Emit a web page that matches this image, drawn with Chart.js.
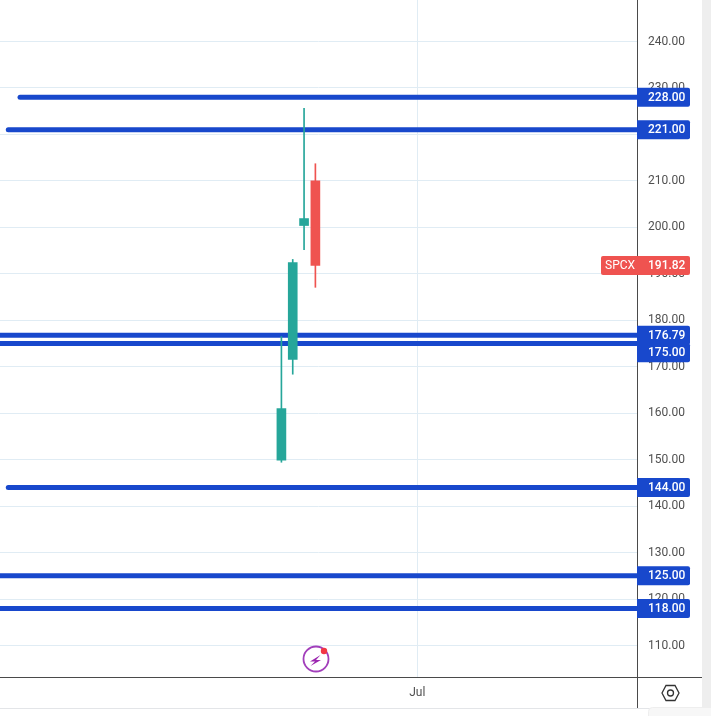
<html>
  <head>
    <style>
      html, body { margin: 0; padding: 0; background: #fff; }
      canvas { display: block; }
    </style>
    <script src="https://cdn.jsdelivr.net/npm/chart.js"></script>
  </head>
  <body>
    <canvas id="myChart" width="711" height="716"></canvas>
    <script>
      // daily candles, x is trading day counted from the first candle
      const candleDays = [0, 1, 2, 3];
      const opens = [149.9, 171.6, 200.4, 210.0];
      const closes = [161.0, 192.4, 201.9, 191.82];
      const highs = [176.5, 193.1, 225.6, 213.7];
      const lows = [149.45, 168.4, 195.2, 187.1];

      // horizontal levels and the day each one starts on
      const levels = [228, 221, 176.79, 175, 144, 125, 118];
      const levelStarts = [-23.08, -24.12, -25, -25, -24.12, -25, -25];

      const priceTicks = [110, 120, 130, 140, 150, 160, 170, 180, 190, 200, 210, 220, 230, 240];
      const dayTicks = [12];
      const dayTickLabels = ['Jul'];
      const lastPrice = 191.82;
      const symbol = 'SPCX';

      const xMin = -24.85, xMax = 31.4;
      const yMin = 103.23, yMax = 248.94;

      const UP = '#26a69a', DOWN = '#ef5350', BLUE = '#1848cc', FRAME = '#4a4a4a', LABEL = '#505050', GRID = '#e0ecf4';
      const FONT = 'Roboto, "Liberation Sans", Arial, sans-serif';

      const candleColors = candleDays.map((d, i) => closes[i] >= opens[i] ? UP : DOWN);

      const datasets = [
        {
          type: 'bar',
          data: candleDays.map((d, i) => ({ x: d, y: [Math.min(opens[i], closes[i]), Math.max(opens[i], closes[i])] })),
          backgroundColor: candleColors,
          barThickness: 9,
          grouped: false,
          order: 1
        },
        {
          type: 'bar',
          data: candleDays.map((d, i) => ({ x: d, y: [lows[i], highs[i]] })),
          backgroundColor: candleColors,
          barThickness: 1,
          grouped: false,
          order: 2
        }
      ];

      levels.forEach((level, i) => {
        datasets.push({
          type: 'line',
          data: [{ x: levelStarts[i], y: level }, { x: xMax, y: level }],
          borderColor: BLUE,
          borderWidth: 5,
          borderCapStyle: 'round',
          pointRadius: 0,
          order: 3
        });
      });

      function badge(ctx, left, right, y, color) {
        ctx.fillStyle = color;
        ctx.beginPath();
        ctx.roundRect(left, y - 9.5, right - left, 19, left < 637 ? 2 : [0, 2, 2, 0]);
        ctx.fill();
      }

      const frame = {
        id: 'frame',
        beforeDraw(chart) {
          const ctx = chart.ctx;
          ctx.save();
          ctx.fillStyle = '#eeeeee';
          ctx.fillRect(702, 0, 9, 716);
          ctx.fillStyle = '#ffffff';
          ctx.fillRect(0, 0, 702, 716);
          ctx.fillStyle = '#e3e5e8';
          ctx.fillRect(0, 708, 702, 1);
          ctx.fillStyle = '#f7f7f7';
          ctx.strokeStyle = '#eeeeee';
          ctx.beginPath();
          ctx.roundRect(648.5, 707.5, 63, 9, [4, 0, 0, 0]);
          ctx.fill();
          ctx.stroke();
          ctx.restore();
        },
        afterDraw(chart) {
          const ctx = chart.ctx;
          const y = chart.scales.y;
          ctx.save();
          // axis frame runs on past the plot area
          ctx.fillStyle = FRAME;
          ctx.fillRect(637, 0, 1, 708);
          ctx.fillRect(0, 677, 702, 1);

          // level badges, pushed down when they would overlap
          ctx.font = '500 12px ' + FONT;
          ctx.textBaseline = 'middle';
          ctx.textAlign = 'left';
          let prev = -100;
          levels.forEach(level => {
            let py = y.getPixelForValue(level);
            if (py - prev < 17.5) py = prev + 17.5;
            prev = py;
            badge(ctx, 637, 690, py, BLUE);
            ctx.fillStyle = '#fff';
            ctx.fillText(level.toFixed(2), 648, py + 0.5);
          });

          // last price
          const lastY = y.getPixelForValue(lastPrice);
          badge(ctx, 601, 690, lastY, DOWN);
          ctx.fillStyle = '#fff';
          ctx.fillText(lastPrice.toFixed(2), 648, lastY + 0.5);
          ctx.font = '12px ' + FONT;
          ctx.fillText(symbol, 605, lastY + 0.5);

          // purple bolt button
          ctx.strokeStyle = '#a23fbb';
          ctx.lineWidth = 1.8;
          ctx.beginPath();
          ctx.arc(316, 659, 12.5, 0, Math.PI * 2);
          ctx.stroke();
          ctx.fillStyle = '#9c27b0';
          ctx.beginPath();
          ctx.moveTo(320.5, 655);
          ctx.lineTo(310, 661.5);
          ctx.lineTo(315, 661.5);
          ctx.lineTo(310.5, 666);
          ctx.lineTo(321, 660);
          ctx.lineTo(316, 660);
          ctx.closePath();
          ctx.fill();
          ctx.fillStyle = '#f23645';
          ctx.beginPath();
          ctx.arc(324, 651, 3.2, 0, Math.PI * 2);
          ctx.fill();

          // settings hexagon
          ctx.strokeStyle = '#333';
          ctx.lineWidth = 1.3;
          ctx.beginPath();
          ctx.moveTo(662, 693);
          ctx.lineTo(666, 685.5);
          ctx.lineTo(675, 685.5);
          ctx.lineTo(679, 693);
          ctx.lineTo(675, 700.5);
          ctx.lineTo(666, 700.5);
          ctx.closePath();
          ctx.stroke();
          ctx.beginPath();
          ctx.arc(670.5, 693, 3, 0, Math.PI * 2);
          ctx.stroke();
          ctx.restore();
        }
      };

      const config = {
        data: { datasets: datasets },
        plugins: [frame],
        options: {
          responsive: false,
          animation: false,
          layout: { autoPadding: false, padding: { left: 0, top: 0, right: 9, bottom: 8 } },
          plugins: { legend: { display: false }, tooltip: { enabled: false } },
          scales: {
            x: {
              type: 'linear',
              offset: false,
              min: xMin,
              max: xMax,
              afterBuildTicks(scale) { scale.ticks = dayTicks.map(v => ({ value: v })); },
              afterFit(scale) { scale.height = 31; scale.paddingLeft = 0; scale.paddingRight = 0; },
              ticks: {
                autoSkip: false,
                maxRotation: 0,
                color: LABEL,
                padding: 9,
                font: { family: FONT, size: 12 },
                callback: (v) => dayTickLabels[dayTicks.indexOf(v)]
              },
              grid: { color: GRID, drawTicks: false, offset: false },
              border: { display: false }
            },
            y: {
              type: 'linear',
              position: 'right',
              min: yMin,
              max: yMax,
              afterBuildTicks(scale) { scale.ticks = priceTicks.map(v => ({ value: v })); },
              afterFit(scale) { scale.width = 65; scale.paddingTop = 0; scale.paddingBottom = 0; },
              ticks: {
                color: LABEL,
                padding: 11,
                font: { family: FONT, size: 12 },
                callback: (v) => v.toFixed(2)
              },
              grid: { color: GRID, drawTicks: false },
              border: { display: false }
            }
          }
        }
      };

      const ctx = document.getElementById('myChart').getContext('2d');
      const myChart = new Chart(ctx, config);
    </script>
  </body>
</html>
